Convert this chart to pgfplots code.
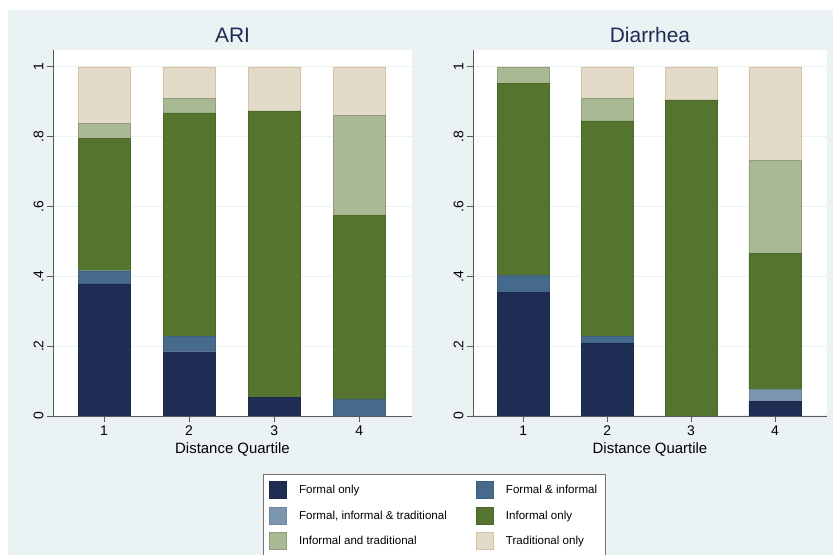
\documentclass[border=0pt]{standalone}
\usepackage{pgfplots}
\pgfplotsset{compat=1.18}
\usepackage{pgfplotstable}
\usepackage{fontspec}
\setmainfont{Liberation Sans}

\definecolor{bgc}{HTML}{EAF2F3}
\definecolor{cfo}{HTML}{1F2C54}
\definecolor{cfi}{HTML}{466A8C}
\definecolor{cfit}{HTML}{7B95AE}
\definecolor{cio}{HTML}{55742E}
\definecolor{cit}{HTML}{A9B994}
\definecolor{cto}{HTML}{E2DBC9}
\definecolor{ttl}{HTML}{1E2B55}

% shares by distance quartile: formal only, formal & informal,
% formal/informal/traditional, informal only, informal & trad., traditional only
\pgfplotstableread{
q fo    fi    fit   io    it    to
1 0.378 0.038 0     0.380 0.041 0.163
2 0.184 0.045 0     0.639 0.042 0.090
3 0.053 0     0     0.821 0     0.126
4 0     0.048 0     0.526 0.286 0.140
}\ari
\pgfplotstableread{
q fo    fi    fit   io    it    to
1 0.354 0.048 0     0.551 0.047 0
2 0.208 0.021 0     0.616 0.065 0.090
3 0     0     0     0.905 0     0.095
4 0.041 0     0.035 0.390 0.267 0.267
}\diar

\pgfplotsset{
  panel/.style={
    scale only axis, height=366bp,
    ymin=0, ymax=1.048, xmin=0.4, xmax=4.62,
    ybar stacked, bar width=52bp,
    axis lines*=left,
    axis line style={draw=black!65, line width=0.8bp},
    axis background/.style={fill=white},
    ytick={0,0.2,0.4,0.6,0.8,1}, yticklabels={0,.2,.4,.6,.8,1},
    xtick={1,2,3,4},
    tick style={draw=black!65, line width=0.8bp},
    tick align=outside, major tick length=6bp,
    ymajorgrids, grid style={draw=bgc, line width=1bp},
    yticklabel style={rotate=90, anchor=south, font=\fontsize{14}{14}\selectfont},
    xticklabel style={font=\fontsize{14}{14}\selectfont},
    xlabel={Distance Quartile},
    xlabel style={font=\fontsize{15}{15}\selectfont},
    title style={at={(0.5,1)}, anchor=center, yshift=9bp,
      font=\fontsize{21}{21}\selectfont, text=ttl},
    /pgf/number format/assume math mode=true,
    legend image code/.code={\draw[##1, line width=0.6bp] (0bp,-8.5bp) rectangle (17bp,8.5bp);},
  },
}

\begin{document}
\begin{tikzpicture}
\useasboundingbox (0bp,0bp) rectangle (833bp,555bp);
\clip (0bp,0bp) rectangle (833bp,555bp);
\fill[white] (0bp,0bp) rectangle (833bp,555bp);
\fill[bgc] (8bp,0bp) rectangle (833bp,545bp);

\begin{axis}[panel, width=359bp, at={(53bp,139bp)}, anchor=south west,
  title={ARI},
  legend columns=2,
  legend cell align=left,
  legend style={at={(0.584,-0.158)}, anchor=north west,
    draw=black!55, fill=white, line width=0.8bp,
    font=\fontsize{11.6}{13}\selectfont,
    inner xsep=6bp, inner ysep=7bp,
    row sep=8bp,
    /tikz/every odd column/.append style={column sep=10.5bp},
    /tikz/every even column/.append style={column sep=27bp}},
]
\addplot[fill=cfo, draw=cfo!90!black] table[x=q, y=fo] {\ari};
\addplot[fill=cfi, draw=cfi!90!black] table[x=q, y=fi] {\ari};
\addplot[fill=cfit, draw=cfit!90!black] table[x=q, y=fit] {\ari};
\addplot[fill=cio, draw=cio!90!black] table[x=q, y=io] {\ari};
\addplot[fill=cit, draw=cit!85!black] table[x=q, y=it] {\ari};
\addplot[fill=cto, draw=cto!70!brown] table[x=q, y=to] {\ari};
\legend{Formal only, Formal \& informal, {Formal, informal \& traditional},
  Informal only, Informal and traditional, Traditional only}
\end{axis}

\begin{axis}[panel, width=354bp, at={(473bp,139bp)}, anchor=south west,
  title={Diarrhea}]
\addplot[fill=cfo, draw=cfo!90!black] table[x=q, y=fo] {\diar};
\addplot[fill=cfi, draw=cfi!90!black] table[x=q, y=fi] {\diar};
\addplot[fill=cfit, draw=cfit!90!black] table[x=q, y=fit] {\diar};
\addplot[fill=cio, draw=cio!90!black] table[x=q, y=io] {\diar};
\addplot[fill=cit, draw=cit!85!black] table[x=q, y=it] {\diar};
\addplot[fill=cto, draw=cto!70!brown] table[x=q, y=to] {\diar};
\end{axis}
\end{tikzpicture}
\end{document}
